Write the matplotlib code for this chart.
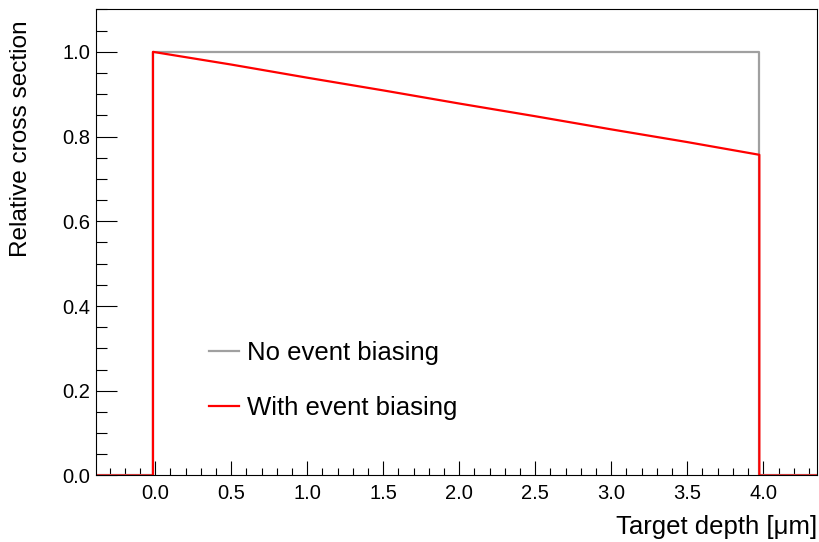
"""Relative cross section vs target depth, with and without event biasing."""
import matplotlib
matplotlib.use("Agg")
import matplotlib.pyplot as plt
from matplotlib.ticker import MultipleLocator

# histogram range on the x axis
x_min, x_max = -0.39, 4.353
target_start, target_end = -0.015, 3.974

# points read along the top of the histograms
depth = [0.0, 0.5, 1.0, 1.5, 2.0, 2.5, 3.0, 3.5, 3.974]
no_bias = [1.0, 1.0, 1.0, 1.0, 1.0, 1.0, 1.0, 1.0, 1.0]
with_bias = [1.0, 0.970, 0.939, 0.909, 0.878, 0.848, 0.817, 0.787, 0.757]


def outline(values):
    """Build the step outline: zero, rise, top, drop, zero."""
    xs = [x_min, target_start, target_start] + depth[1:] + [target_end, x_max]
    ys = [0.0, 0.0] + values[:1] + values[1:] + [0.0, 0.0]
    return xs, ys


plt.rcParams["font.family"] = ["Liberation Sans", "DejaVu Sans"]

fig = plt.figure(figsize=(8.2, 5.42), dpi=100)
ax = fig.add_axes([0.117, 0.1227, 0.8793, 0.8598])

xs, ys = outline(no_bias)
ax.plot(xs, ys, color="#a0a0a0", lw=1.6, label="No event biasing")
xs, ys = outline(with_bias)
ax.plot(xs, ys, color="#ff0000", lw=1.6, label="With event biasing")

ax.set_xlim(x_min, x_max)
ax.set_ylim(0, 1.1)

ax.xaxis.set_major_locator(MultipleLocator(0.5))
ax.xaxis.set_minor_locator(MultipleLocator(0.1))
ax.yaxis.set_major_locator(MultipleLocator(0.2))
ax.yaxis.set_minor_locator(MultipleLocator(0.05))
ax.xaxis.set_major_formatter(plt.FormatStrFormatter("%.1f"))
ax.yaxis.set_major_formatter(plt.FormatStrFormatter("%.1f"))

ax.tick_params(axis="both", which="both", direction="in", width=0.8,
               top=False, right=False, labelsize=14.5)
ax.tick_params(axis="x", which="major", length=10, pad=6)
ax.tick_params(axis="x", which="minor", length=5)
ax.tick_params(axis="y", which="major", length=15, pad=4)
ax.tick_params(axis="y", which="minor", length=8)
for side in ax.spines.values():
    side.set_linewidth(0.8)

ax.set_xlabel("Target depth [\u03bcm]", fontsize=18.5, loc="right", labelpad=9)
fig.text(21 / 820, 1 - 20 / 542, "Relative cross section", fontsize=17.6,
         rotation=90, ha="center", va="top")

ax.legend(loc="upper left", bbox_to_anchor=(0.142, 0.31), frameon=False,
          fontsize=18.5, handlelength=1.2, handletextpad=0.28,
          labelspacing=1.2, borderaxespad=0)

plt.savefig("out.png", dpi=100)
plt.close()
